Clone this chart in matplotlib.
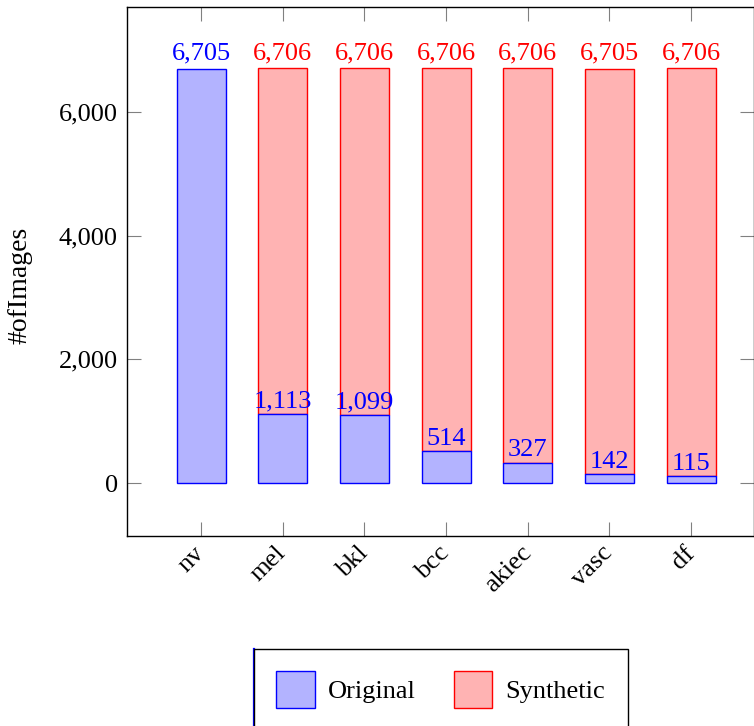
import matplotlib.pyplot as plt
from matplotlib.patches import Patch
from matplotlib.lines import Line2D

plt.rcParams['font.family'] = ['Liberation Serif', 'DejaVu Serif']

# class counts, before and after adding synthetic images
classes = ["nv", "mel", "bkl", "bcc", "akiec", "vasc", "df"]
original = [6705, 1113, 1099, 514, 327, 142, 115]
total = [6705, 6706, 6706, 6706, 6706, 6705, 6706]
yticks = [0, 2000, 4000, 6000]

blue_fill = (0.7, 0.7, 1.0)
red_fill = (1.0, 0.7, 0.7)
fs = 19

def fmt(v):
    return "{:,}".format(v)

fig = plt.figure(figsize=(7.54, 7.26), dpi=100)
ax = fig.add_axes([127/754, 1 - 536/726, 627/754, 529/726])

x = list(range(len(classes)))
width = 0.6

# synthetic part sits on top of the original images
synth = [t - o for t, o in zip(total, original)]
for i in x:
    if synth[i] > 0:
        ax.bar(i, synth[i], width, bottom=original[i], color=red_fill,
               edgecolor="red", linewidth=1.0, zorder=2)
    ax.bar(i, original[i], width, color=blue_fill, edgecolor="blue",
           linewidth=1.0, zorder=3)

# value labels
for i in x:
    if synth[i] > 0:
        ax.annotate(fmt(total[i]), (i, total[i]), xytext=(0, 3),
                    textcoords="offset points", ha="center", va="bottom",
                    color="red", fontsize=fs, zorder=5)
        ax.annotate(fmt(original[i]), (i, original[i]), xytext=(0, 1),
                    textcoords="offset points", ha="center", va="bottom",
                    color="blue", fontsize=fs, zorder=5)
    else:
        ax.annotate(fmt(original[i]), (i, original[i]), xytext=(0, 3),
                    textcoords="offset points", ha="center", va="bottom",
                    color="blue", fontsize=fs, zorder=5)

ax.set_xlim(-0.907, 6.77)
ax.set_ylim(-857, 7700)
ax.set_xticks(x)
ax.set_xticklabels(classes, fontsize=fs, rotation=45, ha="right",
                   va="center", rotation_mode="anchor")
ax.set_yticks(yticks)
ax.set_yticklabels([fmt(v) for v in yticks], fontsize=fs)
ax.tick_params(direction="in", length=10, width=0.8, color="#808080",
               top=True, right=True, pad=6.5)
ax.tick_params(axis="x", pad=10)
for s in ax.spines.values():
    s.set_linewidth(1.0)
ax.set_ylabel("#ofImages", fontsize=20)
ax.yaxis.set_label_coords(-0.1515, 0.473)

handles = [Patch(facecolor=blue_fill, edgecolor="blue", label="Original"),
           Patch(facecolor=red_fill, edgecolor="red", label="Synthetic")]
leg = fig.legend(handles=handles, loc="upper left", ncol=2,
                 bbox_to_anchor=(254/754, 1 - 649/726), fontsize=fs,
                 handlelength=1.45, handleheight=1.75, handletextpad=0.5,
                 columnspacing=1.45, borderpad=0.85, borderaxespad=0,
                 fancybox=False, edgecolor="black", framealpha=1)
leg.get_frame().set_linewidth(1.0)
fig.add_artist(Line2D([254/754, 254/754], [0, 1 - 649/726], color="blue",
                      linewidth=1.6, transform=fig.transFigure))

fig.savefig("out.png", dpi=100)
